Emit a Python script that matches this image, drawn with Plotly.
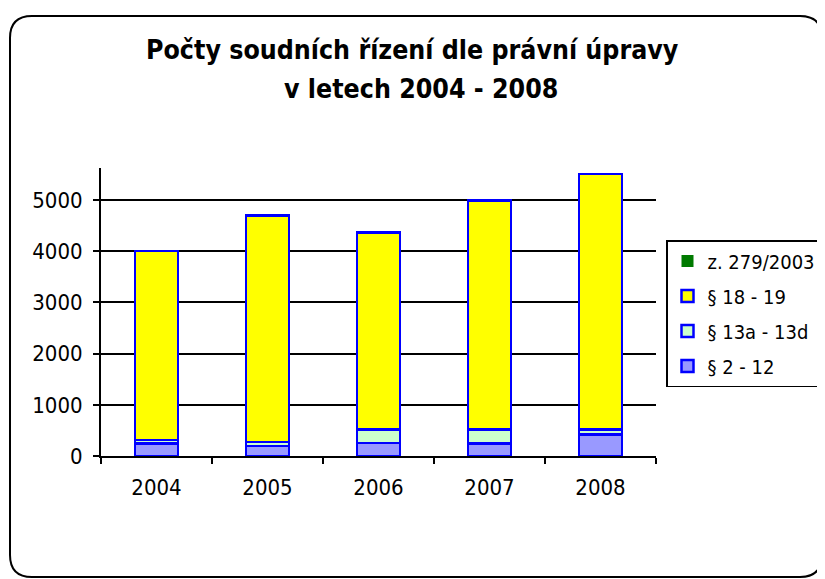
import plotly.graph_objects as go

years = ["2004", "2005", "2006", "2007", "2008"]
s_2_12 = [245, 192, 252, 245, 424]
s_13a_13d = [66, 80, 265, 272, 95]
s_18_19 = [3689, 4428, 3848, 4473, 4991]
z_279_2003 = [0, 0, 0, 0, 0]

names = ["§ 2 - 12", "§ 13a - 13d", "§ 18 - 19", "z. 279/2003"]
values = [s_2_12, s_13a_13d, s_18_19, z_279_2003]
fills = ["#9999FF", "#CCFFCC", "#FFFF00", "#007A00"]
lines = [2.5, 2.5, 2.5, 0]
ranks = [4, 3, 2, 1]

# page body has an 8px margin; work in viewport pixels and subtract it
OFF = 8
VW, VH = 825, 579
W, H = VW - OFF, VH - OFF
L, R, T, B = 101, 656, 168, 456  # plot area in viewport pixels

fig = go.Figure()
for i, (n, v, c, lw, rk) in enumerate(zip(names, values, fills, lines, ranks)):
    fig.add_trace(go.Bar(x=years, y=v, name=n, width=0.39, legendgroup=f"g{i}",
                         legendrank=rk,
                         marker=dict(color=c, line=dict(color="#0000FF", width=lw))))

FONT = "DejaVu Sans Condensed, Tahoma, DejaVu Sans"


def px(x):
    return (x - L) / (R - L)


def py(y):
    return (B - y) / (B - T)


# rounded chart border
x0, x1, y0, y1, r = 10, 822, 16, 577, 22
path = (f"M {px(x0+r)},{py(y0)} L {px(x1-r)},{py(y0)} Q {px(x1)},{py(y0)} {px(x1)},{py(y0+r)} "
        f"L {px(x1)},{py(y1-r)} Q {px(x1)},{py(y1)} {px(x1-r)},{py(y1)} "
        f"L {px(x0+r)},{py(y1)} Q {px(x0)},{py(y1)} {px(x0)},{py(y1-r)} "
        f"L {px(x0)},{py(y0+r)} Q {px(x0)},{py(y0)} {px(x0+r)},{py(y0)} Z")

fig.update_layout(
    width=W, height=H,
    margin=dict(l=L - OFF, r=W - (R - OFF), t=T - OFF, b=H - (B - OFF), pad=0, autoexpand=False),
    paper_bgcolor="white", plot_bgcolor="white",
    barmode="stack",
    font=dict(family=FONT, size=22, color="black"),
    showlegend=True,
    legend=dict(traceorder="grouped", x=px(666), xanchor="left", y=py(240), yanchor="top",
                bordercolor="black", borderwidth=1.5, bgcolor="white",
                font=dict(size=20, family=FONT), tracegroupgap=6, itemwidth=30),
    xaxis=dict(type="category", showline=True, linecolor="black", linewidth=2,
               ticks="outside", tickson="boundaries", ticklen=6, tickwidth=2, tickcolor="black",
               showgrid=False, tickfont=dict(size=22), ticklabelstandoff=11),
    yaxis=dict(range=[0, 5625], tickvals=[0, 1000, 2000, 3000, 4000, 5000],
               showline=True, linecolor="black", linewidth=2,
               ticks="outside", ticklen=6, tickwidth=2, tickcolor="black",
               showgrid=True, gridcolor="black", gridwidth=2, zeroline=False,
               tickfont=dict(size=22), ticklabelstandoff=6),
    shapes=[dict(type="path", xref="paper", yref="paper", path=path,
                 line=dict(color="black", width=2), layer="below")],
    annotations=[
        dict(text="<b>Počty soudních řízení dle právní úpravy</b>", xref="paper", yref="paper",
             x=px(412), y=py(50), showarrow=False, xanchor="center", yanchor="middle",
             font=dict(size=26.5, family=FONT)),
        dict(text="<b>v letech 2004 - 2008</b>", xref="paper", yref="paper",
             x=px(421), y=py(88), showarrow=False, xanchor="center", yanchor="middle",
             font=dict(size=26.5, family=FONT)),
    ],
)

fig.write_html("out.html")
